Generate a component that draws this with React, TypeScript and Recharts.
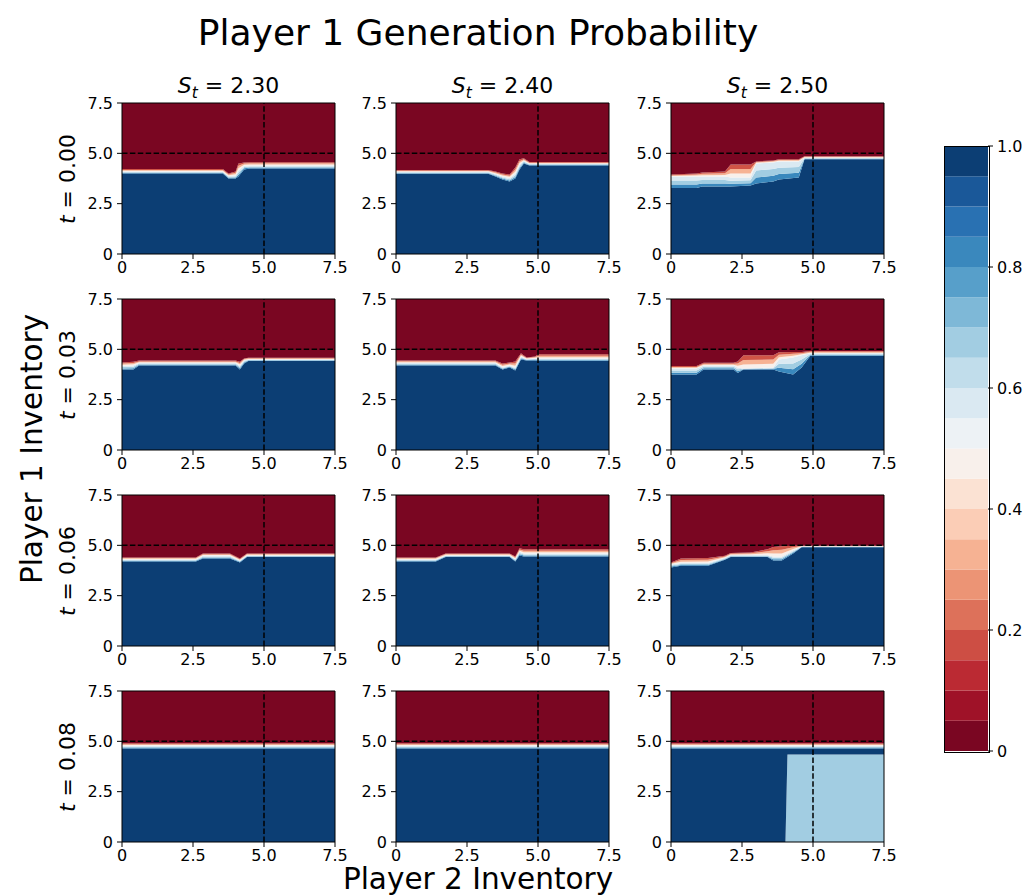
import React from "react";
import {
  ComposedChart,
  Area,
  XAxis,
  YAxis,
  ReferenceLine,
  ReferenceArea,
  BarChart,
  Bar,
} from "recharts";

// column / row headers
const stockPrices = ["2.30", "2.40", "2.50"];
const timeValues = ["0.00", "0.03", "0.06", "0.08"];
const invTicks = [0, 2.5, 5, 7.5];

// colorbar levels (contourf, 20 bins of RdBu)
const cbLevels = [
  0, 0.05, 0.1, 0.15, 0.2, 0.25, 0.3, 0.35, 0.4, 0.45, 0.5, 0.55, 0.6, 0.65,
  0.7, 0.75, 0.8, 0.85, 0.9, 0.95, 1.0,
];
const cbColors = [
  "#7a0622", "#9f1228", "#bb2a33", "#cd4e44", "#dd715a", "#ec9475",
  "#f6b293", "#fbcdb6", "#fbe2d3", "#f8f0eb", "#edf2f5", "#dae9f2",
  "#c1ddeb", "#a2cde2", "#7eb8d7", "#579fca", "#3a88bd", "#2971b2",
  "#1a5899", "#0c3e74",
];
const cbTicks = [0, 0.2, 0.4, 0.6, 0.8, 1.0];

// per panel: player 2 inventory breakpoints (x), top of the solid blue
// region (blue), centre of the white transition (mid), bottom of solid red (red)
// row 0: t = 0.00
const r0c0X = [0, 3.55, 3.75, 4.0, 4.1, 4.3, 4.5, 7.5];
const r0c0Blue = [4.0, 4.0, 3.75, 3.75, 3.85, 4.2, 4.25, 4.25];
const r0c0Mid = [4.1, 4.1, 3.88, 3.9, 4.15, 4.38, 4.4, 4.4];
const r0c0Red = [4.22, 4.22, 4.0, 4.1, 4.5, 4.55, 4.56, 4.56];

const r0c1X = [0, 3.25, 3.5, 3.75, 4.0, 4.2, 4.35, 4.5, 4.7, 7.5];
const r0c1Blue = [3.98, 3.98, 3.85, 3.7, 3.6, 3.75, 4.2, 4.5, 4.4, 4.4];
const r0c1Mid = [4.08, 4.08, 3.98, 3.85, 3.78, 4.0, 4.45, 4.62, 4.48, 4.48];
const r0c1Red = [4.17, 4.17, 4.1, 4.0, 3.95, 4.3, 4.7, 4.75, 4.57, 4.57];

const r0c2X = [0, 0.9, 1.1, 1.9, 2.1, 2.8, 3.0, 3.6, 3.8, 4.5, 4.7, 7.5];
const r0c2Blue = [3.28, 3.28, 3.35, 3.35, 3.35, 3.4, 3.5, 3.6, 3.7, 3.8, 4.7, 4.7];
const r0c2Mid = [3.85, 3.85, 3.85, 3.85, 3.8, 3.8, 4.5, 4.55, 4.6, 4.6, 4.78, 4.78];
const r0c2Red = [3.95, 4.0, 4.05, 4.1, 4.45, 4.45, 4.6, 4.65, 4.7, 4.7, 4.85, 4.85];

// row 1: t = 0.03
const r1c0X = [0, 0.4, 0.6, 4.0, 4.15, 4.3, 4.45, 7.5];
const r1c0Blue = [4.0, 4.0, 4.2, 4.2, 4.0, 4.3, 4.42, 4.42];
const r1c0Mid = [4.18, 4.2, 4.32, 4.32, 4.2, 4.45, 4.5, 4.5];
const r1c0Red = [4.35, 4.38, 4.44, 4.44, 4.38, 4.55, 4.58, 4.58];

const r1c1X = [0, 3.5, 3.75, 4.0, 4.2, 4.4, 4.6, 4.9, 5.0, 7.5];
const r1c1Blue = [4.2, 4.2, 4.0, 4.1, 3.95, 4.5, 4.45, 4.45, 4.42, 4.42];
const r1c1Mid = [4.32, 4.32, 4.12, 4.2, 4.1, 4.65, 4.52, 4.55, 4.55, 4.55];
const r1c1Red = [4.45, 4.45, 4.3, 4.35, 4.4, 4.8, 4.6, 4.65, 4.75, 4.75];

const r1c2X = [0, 0.9, 1.15, 2.2, 2.35, 2.55, 3.6, 3.8, 4.3, 4.6, 4.9, 7.5];
const r1c2Blue = [3.75, 3.75, 4.0, 4.0, 3.83, 4.0, 4.0, 3.9, 3.75, 4.1, 4.67, 4.67];
const r1c2Mid = [4.05, 4.05, 4.2, 4.2, 4.1, 4.05, 4.1, 4.5, 4.6, 4.7, 4.8, 4.8];
const r1c2Red = [4.17, 4.17, 4.33, 4.33, 4.4, 4.7, 4.7, 4.85, 4.87, 4.87, 4.92, 4.92];

// row 2: t = 0.06
const r2c0X = [0, 2.6, 2.85, 3.8, 4.15, 4.4, 7.5];
const r2c0Blue = [4.2, 4.2, 4.35, 4.35, 4.15, 4.42, 4.42];
const r2c0Mid = [4.3, 4.3, 4.48, 4.48, 4.25, 4.5, 4.5];
const r2c0Red = [4.4, 4.4, 4.6, 4.6, 4.35, 4.6, 4.6];

const r2c1X = [0, 1.4, 1.75, 4.0, 4.2, 4.35, 4.5, 7.5];
const r2c1Blue = [4.2, 4.2, 4.42, 4.42, 4.2, 4.5, 4.45, 4.45];
const r2c1Mid = [4.3, 4.3, 4.5, 4.5, 4.32, 4.68, 4.6, 4.6];
const r2c1Red = [4.4, 4.4, 4.6, 4.6, 4.45, 4.85, 4.8, 4.8];

const r2c2X = [0, 0.35, 1.3, 1.9, 2.1, 2.8, 3.4, 3.6, 3.9, 4.3, 4.6, 7.5];
const r2c2Blue = [3.9, 3.98, 3.98, 4.28, 4.42, 4.42, 4.42, 4.25, 4.25, 4.6, 4.9, 4.9];
const r2c2Mid = [4.05, 4.12, 4.12, 4.38, 4.52, 4.52, 4.52, 4.45, 4.45, 4.75, 4.95, 4.95];
const r2c2Red = [4.15, 4.35, 4.37, 4.48, 4.62, 4.65, 4.8, 4.92, 4.95, 4.98, 4.98, 4.98];

// row 3: t = 0.08
const r3c0X = [0, 7.5];
const r3c0Blue = [4.65, 4.65];
const r3c0Mid = [4.78, 4.78];
const r3c0Red = [4.9, 4.9];

const r3c1X = [0, 7.5];
const r3c1Blue = [4.65, 4.65];
const r3c1Mid = [4.78, 4.78];
const r3c1Red = [4.9, 4.9];

const r3c2X = [0, 4.03, 4.1, 7.5];
const r3c2Pale = [0, 0, 4.35, 4.35];
const r3c2Blue = [4.65, 4.65, 4.65, 4.65];
const r3c2Mid = [4.78, 4.78, 4.78, 4.78];
const r3c2Red = [4.9, 4.9, 4.9, 4.9];

type PanelData = { x: number[]; blue: number[]; mid: number[]; red: number[]; pale?: number[] };

const panels: PanelData[][] = [
  [
    { x: r0c0X, blue: r0c0Blue, mid: r0c0Mid, red: r0c0Red },
    { x: r0c1X, blue: r0c1Blue, mid: r0c1Mid, red: r0c1Red },
    { x: r0c2X, blue: r0c2Blue, mid: r0c2Mid, red: r0c2Red },
  ],
  [
    { x: r1c0X, blue: r1c0Blue, mid: r1c0Mid, red: r1c0Red },
    { x: r1c1X, blue: r1c1Blue, mid: r1c1Mid, red: r1c1Red },
    { x: r1c2X, blue: r1c2Blue, mid: r1c2Mid, red: r1c2Red },
  ],
  [
    { x: r2c0X, blue: r2c0Blue, mid: r2c0Mid, red: r2c0Red },
    { x: r2c1X, blue: r2c1Blue, mid: r2c1Mid, red: r2c1Red },
    { x: r2c2X, blue: r2c2Blue, mid: r2c2Mid, red: r2c2Red },
  ],
  [
    { x: r3c0X, blue: r3c0Blue, mid: r3c0Mid, red: r3c0Red },
    { x: r3c1X, blue: r3c1Blue, mid: r3c1Mid, red: r3c1Red },
    { x: r3c2X, blue: r3c2Blue, mid: r3c2Mid, red: r3c2Red, pale: r3c2Pale },
  ],
];

// stacked contour bands, bottom to top
const LAYERS = [
  { key: "pale", color: "#a2cde2" },
  { key: "deep", color: "#0c3e74" },
  { key: "c1", color: "#3a88bd" },
  { key: "c2", color: "#a2cde2" },
  { key: "c3", color: "#dae9f2" },
  { key: "w1", color: "#f8f0eb" },
  { key: "w2", color: "#f6b293" },
  { key: "w3", color: "#d05446" },
  { key: "top", color: "#7a0622" },
];

const buildRows = (p: PanelData) =>
  p.x.map((x, i) => {
    const pale = p.pale ? p.pale[i] : 0;
    const cool = p.mid[i] - p.blue[i];
    const warm = p.red[i] - p.mid[i];
    return {
      x,
      pale,
      deep: p.blue[i] - pale,
      c1: cool * 0.3,
      c2: cool * 0.35,
      c3: cool * 0.35,
      w1: warm * 0.3,
      w2: warm * 0.35,
      w3: warm * 0.35,
      top: 7.5 - p.red[i],
    };
  });

// layout (px)
const colLefts = [122, 396, 671];
const rowTops = [103, 299, 495, 691];
const PW = 213;
const PH = 151;
const YW = 50;
const MT = 10;
const MR = 18;
const XH = 32;

const fmt = (v: number) => (v === 0 ? "0" : v.toFixed(1));
const tickStyle = { fill: "#000", fontSize: 16 };

const Panel = ({ data, left, top }: { data: PanelData; left: number; top: number }) => {
  const rows = buildRows(data);
  return (
    <div style={{ position: "absolute", left: left - YW, top: top - MT }}>
      <ComposedChart
        width={YW + PW + MR}
        height={MT + PH + XH}
        data={rows}
        margin={{ top: MT, right: MR, bottom: 0, left: 0 }}
      >
        <XAxis
          dataKey="x"
          type="number"
          domain={[0, 7.5]}
          ticks={invTicks}
          interval={0}
          allowDataOverflow
          tickFormatter={fmt}
          tick={tickStyle}
          tickLine={{ stroke: "#000" }}
          axisLine={false}
          tickSize={5}
          tickMargin={3}
          height={XH}
        />
        <YAxis
          type="number"
          domain={[0, 7.5]}
          ticks={invTicks}
          interval={0}
          allowDataOverflow
          tickFormatter={fmt}
          tick={tickStyle}
          tickLine={{ stroke: "#000" }}
          axisLine={false}
          tickSize={5}
          tickMargin={4}
          width={YW}
        />
        {LAYERS.map((l) => (
          <Area
            key={l.key}
            dataKey={l.key}
            stackId="s"
            type="linear"
            stroke="none"
            fill={l.color}
            fillOpacity={1}
            dot={false}
            activeDot={false}
            isAnimationActive={false}
          />
        ))}
        <ReferenceLine x={5} stroke="#000" strokeWidth={1.5} strokeDasharray="5.5 2.4" />
        <ReferenceLine y={5} stroke="#000" strokeWidth={1.5} strokeDasharray="5.5 2.4" />
        <ReferenceArea
          x1={0}
          x2={7.5}
          y1={0}
          y2={7.5}
          fill="none"
          fillOpacity={0}
          stroke="#000"
          strokeWidth={1}
          ifOverflow="visible"
        />
      </ComposedChart>
    </div>
  );
};

const cbRow = [
  cbLevels.slice(1).reduce(
    (acc, lv, i) => ({ ...acc, [`b${i}`]: lv - cbLevels[i] }),
    { name: "cb" } as Record<string, number | string>
  ),
];

const Colorbar = () => (
  <div style={{ position: "absolute", left: 944, top: 136 }}>
    <BarChart
      width={44 + 50}
      height={605 + 20}
      data={cbRow}
      margin={{ top: 10, right: 0, bottom: 10, left: 0 }}
      barCategoryGap={0}
      barGap={0}
    >
      <XAxis dataKey="name" hide />
      <YAxis
        orientation="right"
        type="number"
        domain={[0, 1]}
        ticks={cbTicks}
        interval={0}
        allowDataOverflow
        tickFormatter={(v: number) => (v === 0 ? "0" : v.toFixed(1))}
        tick={tickStyle}
        tickLine={{ stroke: "#000" }}
        axisLine={false}
        tickSize={5}
        tickMargin={4}
        width={50}
      />
      {cbColors.map((c, i) => (
        <Bar key={i} dataKey={`b${i}`} stackId="cb" fill={c} isAnimationActive={false} />
      ))}
    </BarChart>
    <div
      style={{
        position: "absolute",
        left: -0.5,
        top: 9.5,
        width: 44,
        height: 605,
        border: "1px solid #000",
        pointerEvents: "none",
      }}
    />
  </div>
);

const centered: React.CSSProperties = {
  position: "absolute",
  transform: "translate(-50%, -50%)",
  whiteSpace: "nowrap",
  lineHeight: 1,
  color: "#000",
};

export default function App() {
  return (
    <div
      style={{
        position: "absolute",
        left: 0,
        top: 0,
        width: 1025,
        height: 895,
        background: "#fff",
        fontFamily: '"DejaVu Sans", sans-serif',
        overflow: "hidden",
      }}
    >
      <div style={{ ...centered, left: 478, top: 33, fontSize: 36 }}>
        Player 1 Generation Probability
      </div>
      {stockPrices.map((s, c) => (
        <div key={s} style={{ ...centered, left: colLefts[c] + PW / 2, top: 88, fontSize: 22 }}>
          <span style={{ fontStyle: "italic" }}>S</span>
          <sub style={{ fontStyle: "italic", fontSize: "0.7em" }}>t</sub>
          {" = " + s}
        </div>
      ))}
      {timeValues.map((t, r) => (
        <div
          key={t}
          style={{
            ...centered,
            left: 68,
            top: rowTops[r] + PH / 2,
            fontSize: 22,
            transform: "translate(-50%, -50%) rotate(-90deg)",
          }}
        >
          <span style={{ fontStyle: "italic" }}>t</span>
          {" = " + t}
        </div>
      ))}
      <div
        style={{
          ...centered,
          left: 33,
          top: 449,
          fontSize: 29.5,
          transform: "translate(-50%, -50%) rotate(-90deg)",
        }}
      >
        Player 1 Inventory
      </div>
      <div style={{ ...centered, left: 478, top: 880, fontSize: 29.5, lineHeight: 0.85 }}>
        Player 2 Inventory
      </div>
      {panels.map((row, r) =>
        row.map((p, c) => (
          <Panel key={`${r}-${c}`} data={p} left={colLefts[c]} top={rowTops[r]} />
        ))
      )}
      <Colorbar />
    </div>
  );
}
